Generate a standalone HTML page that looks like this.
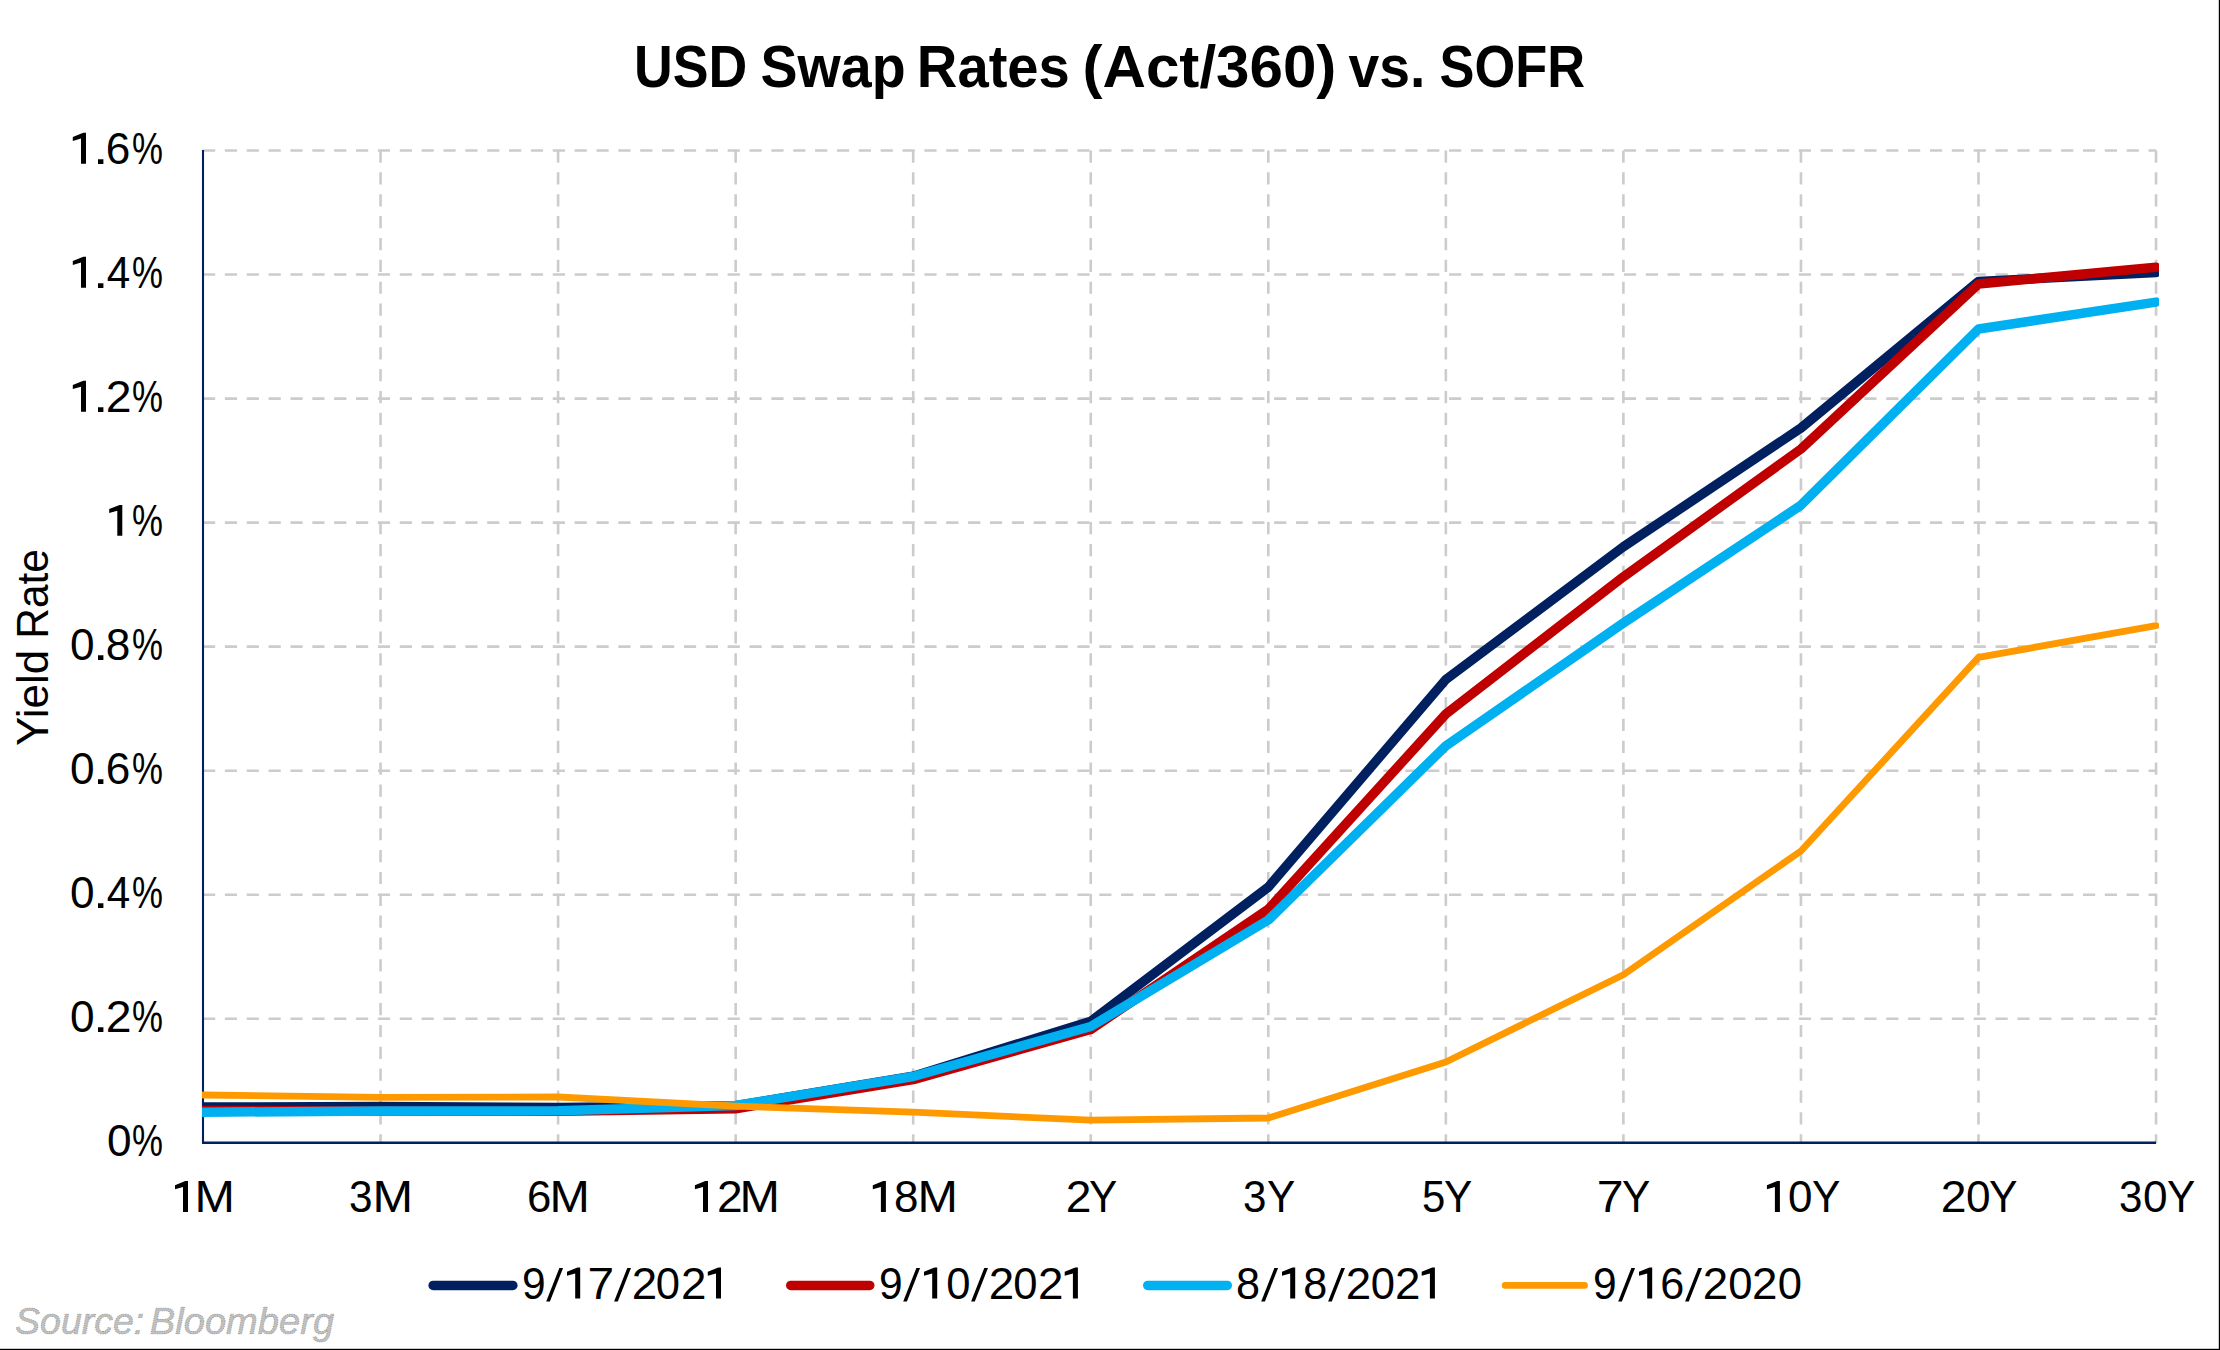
<!DOCTYPE html>
<html><head><meta charset="utf-8"><title>USD Swap Rates (Act/360) vs. SOFR</title><style>
html,body{margin:0;padding:0;background:#fff;}
body{width:2220px;height:1350px;overflow:hidden;position:relative;}
svg{position:absolute;left:0;top:0;display:block;}
.g{stroke:#CCCCCC;stroke-width:2.6;stroke-dasharray:12.2 9.66;fill:none;}
</style></head><body>
<svg width="2220" height="1350" viewBox="0 0 2220 1350">
<defs><clipPath id="pc"><rect x="202" y="0" width="1957" height="1350"/></clipPath></defs>
<rect x="0" y="0" width="2220" height="1350" fill="#fff"/>
<line x1="203" y1="150.50" x2="2156.05" y2="150.50" class="g"/>
<line x1="203" y1="274.54" x2="2156.05" y2="274.54" class="g"/>
<line x1="203" y1="398.58" x2="2156.05" y2="398.58" class="g"/>
<line x1="203" y1="522.62" x2="2156.05" y2="522.62" class="g"/>
<line x1="203" y1="646.66" x2="2156.05" y2="646.66" class="g"/>
<line x1="203" y1="770.70" x2="2156.05" y2="770.70" class="g"/>
<line x1="203" y1="894.74" x2="2156.05" y2="894.74" class="g"/>
<line x1="203" y1="1018.78" x2="2156.05" y2="1018.78" class="g"/>
<line x1="380.55" y1="150.5" x2="380.55" y2="1142.8" class="g"/>
<line x1="558.10" y1="150.5" x2="558.10" y2="1142.8" class="g"/>
<line x1="735.65" y1="150.5" x2="735.65" y2="1142.8" class="g"/>
<line x1="913.20" y1="150.5" x2="913.20" y2="1142.8" class="g"/>
<line x1="1090.75" y1="150.5" x2="1090.75" y2="1142.8" class="g"/>
<line x1="1268.30" y1="150.5" x2="1268.30" y2="1142.8" class="g"/>
<line x1="1445.85" y1="150.5" x2="1445.85" y2="1142.8" class="g"/>
<line x1="1623.40" y1="150.5" x2="1623.40" y2="1142.8" class="g"/>
<line x1="1800.95" y1="150.5" x2="1800.95" y2="1142.8" class="g"/>
<line x1="1978.50" y1="150.5" x2="1978.50" y2="1142.8" class="g"/>
<line x1="2156.05" y1="150.5" x2="2156.05" y2="1142.8" class="g"/>
<line x1="203" y1="150" x2="203" y2="1143" stroke="#002060" stroke-width="2.1"/>
<line x1="202" y1="1142.8" x2="2156.05" y2="1142.8" stroke="#002060" stroke-width="2.6"/>
<g clip-path="url(#pc)" fill="none" stroke-linejoin="round" stroke-linecap="round">
<polyline points="203.00,1107.10 380.55,1106.50 558.10,1107.40 735.65,1105.80 913.20,1076.30 1090.75,1021.20 1268.30,887.10 1445.85,679.50 1623.40,546.80 1800.95,428.00 1978.50,281.50 2156.05,272.60" stroke="#002060" stroke-width="9.5"/>
<polyline points="203.00,1110.40 380.55,1111.00 558.10,1111.20 735.65,1108.70 913.20,1079.60 1090.75,1029.50 1268.30,909.30 1445.85,714.00 1623.40,576.80 1800.95,449.00 1978.50,283.90 2156.05,267.20" stroke="#C00000" stroke-width="9.5"/>
<polyline points="203.00,1112.20 380.55,1111.10 558.10,1110.80 735.65,1105.50 913.20,1076.50 1090.75,1026.50 1268.30,920.00 1445.85,745.80 1623.40,623.00 1800.95,505.20 1978.50,329.00 2156.05,302.10" stroke="#00B0F0" stroke-width="9.5"/>
<polyline points="203.00,1095.00 380.55,1097.30 558.10,1097.00 735.65,1106.20 913.20,1112.20 1090.75,1120.20 1268.30,1118.00 1445.85,1062.00 1623.40,974.70 1800.95,851.00 1978.50,657.40 2156.05,625.60" stroke="#FF9900" stroke-width="6.8"/>
</g>
<line x1="433.15" y1="1285.4" x2="512.85" y2="1285.4" stroke="#002060" stroke-width="9.5" stroke-linecap="round"/>
<line x1="790.75" y1="1285.4" x2="869.75" y2="1285.4" stroke="#C00000" stroke-width="9.5" stroke-linecap="round"/>
<line x1="1147.75" y1="1285.4" x2="1227.25" y2="1285.4" stroke="#00B0F0" stroke-width="9.5" stroke-linecap="round"/>
<line x1="1505.10" y1="1285.4" x2="1584.60" y2="1285.4" stroke="#FF9900" stroke-width="6.6" stroke-linecap="round"/>
<text transform="translate(634.05,87.30) scale(0.9169,1)" style="font-family:'Liberation Sans',sans-serif;font-weight:700;font-size:58.5px;fill:#000">USD</text>
<text transform="translate(760.50,87.30) scale(0.9500,1)" style="font-family:'Liberation Sans',sans-serif;font-weight:700;font-size:58.5px;fill:#000">Swap</text>
<text transform="translate(916.86,87.30) scale(0.9601,1)" style="font-family:'Liberation Sans',sans-serif;font-weight:700;font-size:58.5px;fill:#000">Rates</text>
<text transform="translate(1082.52,87.30) scale(1.0278,1)" style="font-family:'Liberation Sans',sans-serif;font-weight:700;font-size:58.5px;fill:#000">(Act/360)</text>
<text transform="translate(1348.60,87.30) scale(0.9442,1)" style="font-family:'Liberation Sans',sans-serif;font-weight:700;font-size:58.5px;fill:#000">vs.</text>
<text transform="translate(1439.61,87.30) scale(0.8956,1)" style="font-family:'Liberation Sans',sans-serif;font-weight:700;font-size:58.5px;fill:#000">SOFR</text>
<text transform="translate(14.99,1333.70) scale(1.0144,1)" style="font-family:'Liberation Sans',sans-serif;font-style:italic;font-size:37px;fill:#C0C0C0;stroke:#8a8a8a;stroke-width:0.7px;stroke-dasharray:1 1.2">Source:</text>
<text transform="translate(149.87,1333.70) scale(1.0298,1)" style="font-family:'Liberation Sans',sans-serif;font-style:italic;font-size:37px;fill:#C0C0C0;stroke:#8a8a8a;stroke-width:0.7px;stroke-dasharray:1 1.2">Bloomberg</text>
<text transform="translate(47.90,745.90) rotate(-90) scale(0.9989,1)" style="font-family:'Liberation Sans',sans-serif;font-size:44px;fill:#000">Yield</text>
<text transform="translate(47.90,638.76) rotate(-90) scale(0.9655,1)" style="font-family:'Liberation Sans',sans-serif;font-size:44px;fill:#000">Rate</text>
<text transform="translate(106.89,1156.00) scale(1.0048,1)" style="font-family:'Liberation Sans',sans-serif;font-size:44px;fill:#000">0</text>
<text transform="translate(132.01,1156.00) scale(0.7919,1)" style="font-family:'Liberation Sans',sans-serif;font-size:44px;fill:#000">%</text>
<text transform="translate(69.89,1031.96) scale(1.0048,1)" style="font-family:'Liberation Sans',sans-serif;font-size:44px;fill:#000">0</text>
<text transform="translate(92.70,1031.96) scale(1.3000,1)" style="font-family:'Liberation Sans',sans-serif;font-size:44px;fill:#000">.</text>
<text transform="translate(105.69,1031.96) scale(1.0550,1)" style="font-family:'Liberation Sans',sans-serif;font-size:44px;fill:#000">2</text>
<text transform="translate(132.01,1031.96) scale(0.7919,1)" style="font-family:'Liberation Sans',sans-serif;font-size:44px;fill:#000">%</text>
<text transform="translate(69.89,907.92) scale(1.0048,1)" style="font-family:'Liberation Sans',sans-serif;font-size:44px;fill:#000">0</text>
<text transform="translate(92.70,907.92) scale(1.3000,1)" style="font-family:'Liberation Sans',sans-serif;font-size:44px;fill:#000">.</text>
<text transform="translate(106.84,907.92) scale(0.9591,1)" style="font-family:'Liberation Sans',sans-serif;font-size:44px;fill:#000">4</text>
<text transform="translate(132.01,907.92) scale(0.7919,1)" style="font-family:'Liberation Sans',sans-serif;font-size:44px;fill:#000">%</text>
<text transform="translate(69.89,783.88) scale(1.0048,1)" style="font-family:'Liberation Sans',sans-serif;font-size:44px;fill:#000">0</text>
<text transform="translate(92.70,783.88) scale(1.3000,1)" style="font-family:'Liberation Sans',sans-serif;font-size:44px;fill:#000">.</text>
<text transform="translate(105.79,783.88) scale(1.0048,1)" style="font-family:'Liberation Sans',sans-serif;font-size:44px;fill:#000">6</text>
<text transform="translate(132.01,783.88) scale(0.7919,1)" style="font-family:'Liberation Sans',sans-serif;font-size:44px;fill:#000">%</text>
<text transform="translate(69.89,659.84) scale(1.0048,1)" style="font-family:'Liberation Sans',sans-serif;font-size:44px;fill:#000">0</text>
<text transform="translate(92.70,659.84) scale(1.3000,1)" style="font-family:'Liberation Sans',sans-serif;font-size:44px;fill:#000">.</text>
<text transform="translate(105.79,659.84) scale(1.0048,1)" style="font-family:'Liberation Sans',sans-serif;font-size:44px;fill:#000">8</text>
<text transform="translate(132.01,659.84) scale(0.7919,1)" style="font-family:'Liberation Sans',sans-serif;font-size:44px;fill:#000">%</text>
<path d="M122.30,504.90 L122.30,535.80 L117.30,535.80 L117.30,510.70 L109.20,513.00 L109.20,509.10 L119.60,504.90 Z" fill="#000"/>
<text transform="translate(132.01,535.80) scale(0.7919,1)" style="font-family:'Liberation Sans',sans-serif;font-size:44px;fill:#000">%</text>
<path d="M86.00,380.86 L86.00,411.76 L81.00,411.76 L81.00,386.66 L72.80,388.96 L72.80,385.06 L83.30,380.86 Z" fill="#000"/>
<text transform="translate(92.70,411.76) scale(1.3000,1)" style="font-family:'Liberation Sans',sans-serif;font-size:44px;fill:#000">.</text>
<text transform="translate(105.69,411.76) scale(1.0550,1)" style="font-family:'Liberation Sans',sans-serif;font-size:44px;fill:#000">2</text>
<text transform="translate(132.01,411.76) scale(0.7919,1)" style="font-family:'Liberation Sans',sans-serif;font-size:44px;fill:#000">%</text>
<path d="M86.00,256.82 L86.00,287.72 L81.00,287.72 L81.00,262.62 L72.80,264.92 L72.80,261.02 L83.30,256.82 Z" fill="#000"/>
<text transform="translate(92.70,287.72) scale(1.3000,1)" style="font-family:'Liberation Sans',sans-serif;font-size:44px;fill:#000">.</text>
<text transform="translate(106.84,287.72) scale(0.9591,1)" style="font-family:'Liberation Sans',sans-serif;font-size:44px;fill:#000">4</text>
<text transform="translate(132.01,287.72) scale(0.7919,1)" style="font-family:'Liberation Sans',sans-serif;font-size:44px;fill:#000">%</text>
<path d="M86.00,132.78 L86.00,163.68 L81.00,163.68 L81.00,138.58 L72.80,140.88 L72.80,136.98 L83.30,132.78 Z" fill="#000"/>
<text transform="translate(92.70,163.68) scale(1.3000,1)" style="font-family:'Liberation Sans',sans-serif;font-size:44px;fill:#000">.</text>
<text transform="translate(105.79,163.68) scale(1.0048,1)" style="font-family:'Liberation Sans',sans-serif;font-size:44px;fill:#000">6</text>
<text transform="translate(132.01,163.68) scale(0.7919,1)" style="font-family:'Liberation Sans',sans-serif;font-size:44px;fill:#000">%</text>
<path d="M188.00,1181.10 L188.00,1212.00 L183.00,1212.00 L183.00,1186.90 L175.00,1189.20 L175.00,1185.30 L185.30,1181.10 Z" fill="#000"/>
<text transform="translate(194.59,1212.00) scale(1.1034,1)" style="font-family:'Liberation Sans',sans-serif;font-size:44px;fill:#000">M</text>
<text transform="translate(348.88,1212.00) scale(0.9619,1)" style="font-family:'Liberation Sans',sans-serif;font-size:44px;fill:#000">3</text>
<text transform="translate(372.47,1212.00) scale(1.1069,1)" style="font-family:'Liberation Sans',sans-serif;font-size:44px;fill:#000">M</text>
<text transform="translate(527.01,1212.00) scale(0.9952,1)" style="font-family:'Liberation Sans',sans-serif;font-size:44px;fill:#000">6</text>
<text transform="translate(549.60,1212.00) scale(1.1000,1)" style="font-family:'Liberation Sans',sans-serif;font-size:44px;fill:#000">M</text>
<path d="M708.00,1181.10 L708.00,1212.00 L703.00,1212.00 L703.00,1186.90 L694.90,1189.20 L694.90,1185.30 L705.30,1181.10 Z" fill="#000"/>
<text transform="translate(716.90,1212.00) scale(1.0500,1)" style="font-family:'Liberation Sans',sans-serif;font-size:44px;fill:#000">2</text>
<text transform="translate(739.59,1212.00) scale(1.1034,1)" style="font-family:'Liberation Sans',sans-serif;font-size:44px;fill:#000">M</text>
<path d="M885.90,1181.10 L885.90,1212.00 L880.90,1212.00 L880.90,1186.90 L872.80,1189.20 L872.80,1185.30 L883.20,1181.10 Z" fill="#000"/>
<text transform="translate(894.00,1212.00) scale(1.0000,1)" style="font-family:'Liberation Sans',sans-serif;font-size:44px;fill:#000">8</text>
<text transform="translate(917.49,1212.00) scale(1.1034,1)" style="font-family:'Liberation Sans',sans-serif;font-size:44px;fill:#000">M</text>
<text transform="translate(1065.80,1212.00) scale(1.0500,1)" style="font-family:'Liberation Sans',sans-serif;font-size:44px;fill:#000">2</text>
<text transform="translate(1089.04,1212.00) scale(0.9630,1)" style="font-family:'Liberation Sans',sans-serif;font-size:44px;fill:#000">Y</text>
<text transform="translate(1242.99,1212.00) scale(0.9571,1)" style="font-family:'Liberation Sans',sans-serif;font-size:44px;fill:#000">3</text>
<text transform="translate(1267.04,1212.00) scale(0.9630,1)" style="font-family:'Liberation Sans',sans-serif;font-size:44px;fill:#000">Y</text>
<text transform="translate(1422.10,1212.00) scale(0.9524,1)" style="font-family:'Liberation Sans',sans-serif;font-size:44px;fill:#000">5</text>
<text transform="translate(1444.04,1212.00) scale(0.9630,1)" style="font-family:'Liberation Sans',sans-serif;font-size:44px;fill:#000">Y</text>
<text transform="translate(1596.81,1212.00) scale(1.0950,1)" style="font-family:'Liberation Sans',sans-serif;font-size:44px;fill:#000">7</text>
<text transform="translate(1622.04,1212.00) scale(0.9630,1)" style="font-family:'Liberation Sans',sans-serif;font-size:44px;fill:#000">Y</text>
<path d="M1779.90,1181.10 L1779.90,1212.00 L1774.90,1212.00 L1774.90,1186.90 L1766.90,1189.20 L1766.90,1185.30 L1777.20,1181.10 Z" fill="#000"/>
<text transform="translate(1788.00,1212.00) scale(1.0000,1)" style="font-family:'Liberation Sans',sans-serif;font-size:44px;fill:#000">0</text>
<text transform="translate(1811.93,1212.00) scale(0.9667,1)" style="font-family:'Liberation Sans',sans-serif;font-size:44px;fill:#000">Y</text>
<text transform="translate(1940.79,1212.00) scale(1.0550,1)" style="font-family:'Liberation Sans',sans-serif;font-size:44px;fill:#000">2</text>
<text transform="translate(1965.99,1212.00) scale(1.0048,1)" style="font-family:'Liberation Sans',sans-serif;font-size:44px;fill:#000">0</text>
<text transform="translate(1988.93,1212.00) scale(0.9704,1)" style="font-family:'Liberation Sans',sans-serif;font-size:44px;fill:#000">Y</text>
<text transform="translate(2118.99,1212.00) scale(0.9571,1)" style="font-family:'Liberation Sans',sans-serif;font-size:44px;fill:#000">3</text>
<text transform="translate(2142.99,1212.00) scale(1.0048,1)" style="font-family:'Liberation Sans',sans-serif;font-size:44px;fill:#000">0</text>
<text transform="translate(2166.94,1212.00) scale(0.9630,1)" style="font-family:'Liberation Sans',sans-serif;font-size:44px;fill:#000">Y</text>
<text transform="translate(521.97,1298.50) scale(0.9667,1)" style="font-family:'Liberation Sans',sans-serif;font-size:44px;fill:#000">9</text>
<polygon points="546.20,1301.6 549.90,1301.6 563.10,1267.9 559.40,1267.9" fill="#000"/>
<path d="M580.20,1267.60 L580.20,1298.50 L575.20,1298.50 L575.20,1273.40 L567.00,1275.70 L567.00,1271.80 L577.50,1267.60 Z" fill="#000"/>
<text transform="translate(587.62,1298.50) scale(1.0900,1)" style="font-family:'Liberation Sans',sans-serif;font-size:44px;fill:#000">7</text>
<polygon points="614.10,1301.6 617.80,1301.6 631.00,1267.9 627.30,1267.9" fill="#000"/>
<text transform="translate(631.82,1298.50) scale(1.0400,1)" style="font-family:'Liberation Sans',sans-serif;font-size:44px;fill:#000">2</text>
<text transform="translate(655.72,1298.50) scale(0.9905,1)" style="font-family:'Liberation Sans',sans-serif;font-size:44px;fill:#000">0</text>
<text transform="translate(680.92,1298.50) scale(1.0400,1)" style="font-family:'Liberation Sans',sans-serif;font-size:44px;fill:#000">2</text>
<path d="M721.00,1267.60 L721.00,1298.50 L716.00,1298.50 L716.00,1273.40 L707.80,1275.70 L707.80,1271.80 L718.30,1267.60 Z" fill="#000"/>
<text transform="translate(878.97,1298.50) scale(0.9667,1)" style="font-family:'Liberation Sans',sans-serif;font-size:44px;fill:#000">9</text>
<polygon points="903.20,1301.6 906.90,1301.6 920.10,1267.9 916.40,1267.9" fill="#000"/>
<path d="M937.20,1267.60 L937.20,1298.50 L932.20,1298.50 L932.20,1273.40 L924.00,1275.70 L924.00,1271.80 L934.50,1267.60 Z" fill="#000"/>
<text transform="translate(946.32,1298.50) scale(0.9905,1)" style="font-family:'Liberation Sans',sans-serif;font-size:44px;fill:#000">0</text>
<polygon points="971.10,1301.6 974.80,1301.6 988.00,1267.9 984.30,1267.9" fill="#000"/>
<text transform="translate(988.82,1298.50) scale(1.0400,1)" style="font-family:'Liberation Sans',sans-serif;font-size:44px;fill:#000">2</text>
<text transform="translate(1013.22,1298.50) scale(0.9905,1)" style="font-family:'Liberation Sans',sans-serif;font-size:44px;fill:#000">0</text>
<text transform="translate(1037.92,1298.50) scale(1.0400,1)" style="font-family:'Liberation Sans',sans-serif;font-size:44px;fill:#000">2</text>
<path d="M1077.90,1267.60 L1077.90,1298.50 L1072.90,1298.50 L1072.90,1273.40 L1064.70,1275.70 L1064.70,1271.80 L1075.20,1267.60 Z" fill="#000"/>
<text transform="translate(1235.94,1298.50) scale(0.9810,1)" style="font-family:'Liberation Sans',sans-serif;font-size:44px;fill:#000">8</text>
<polygon points="1261.20,1301.6 1264.90,1301.6 1278.10,1267.9 1274.40,1267.9" fill="#000"/>
<path d="M1295.20,1267.60 L1295.20,1298.50 L1290.20,1298.50 L1290.20,1273.40 L1282.00,1275.70 L1282.00,1271.80 L1292.50,1267.60 Z" fill="#000"/>
<text transform="translate(1303.34,1298.50) scale(0.9810,1)" style="font-family:'Liberation Sans',sans-serif;font-size:44px;fill:#000">8</text>
<polygon points="1328.10,1301.6 1331.80,1301.6 1345.00,1267.9 1341.30,1267.9" fill="#000"/>
<text transform="translate(1345.82,1298.50) scale(1.0400,1)" style="font-family:'Liberation Sans',sans-serif;font-size:44px;fill:#000">2</text>
<text transform="translate(1370.72,1298.50) scale(0.9905,1)" style="font-family:'Liberation Sans',sans-serif;font-size:44px;fill:#000">0</text>
<text transform="translate(1394.92,1298.50) scale(1.0400,1)" style="font-family:'Liberation Sans',sans-serif;font-size:44px;fill:#000">2</text>
<path d="M1434.90,1267.60 L1434.90,1298.50 L1429.90,1298.50 L1429.90,1273.40 L1421.70,1275.70 L1421.70,1271.80 L1432.20,1267.60 Z" fill="#000"/>
<text transform="translate(1592.97,1298.50) scale(0.9667,1)" style="font-family:'Liberation Sans',sans-serif;font-size:44px;fill:#000">9</text>
<polygon points="1618.20,1301.6 1621.90,1301.6 1635.10,1267.9 1631.40,1267.9" fill="#000"/>
<path d="M1652.20,1267.60 L1652.20,1298.50 L1647.20,1298.50 L1647.20,1273.40 L1639.00,1275.70 L1639.00,1271.80 L1649.50,1267.60 Z" fill="#000"/>
<text transform="translate(1660.34,1298.50) scale(0.9810,1)" style="font-family:'Liberation Sans',sans-serif;font-size:44px;fill:#000">6</text>
<polygon points="1685.10,1301.6 1688.80,1301.6 1702.00,1267.9 1698.30,1267.9" fill="#000"/>
<text transform="translate(1702.82,1298.50) scale(1.0400,1)" style="font-family:'Liberation Sans',sans-serif;font-size:44px;fill:#000">2</text>
<text transform="translate(1728.22,1298.50) scale(0.9905,1)" style="font-family:'Liberation Sans',sans-serif;font-size:44px;fill:#000">0</text>
<text transform="translate(1751.92,1298.50) scale(1.0400,1)" style="font-family:'Liberation Sans',sans-serif;font-size:44px;fill:#000">2</text>
<text transform="translate(1777.72,1298.50) scale(0.9905,1)" style="font-family:'Liberation Sans',sans-serif;font-size:44px;fill:#000">0</text>
<rect x="2218.8" y="0" width="1.2" height="1350" fill="#000"/>
<rect x="0" y="1348.8" width="2220" height="1.2" fill="#000"/>
</svg>
</body></html>
